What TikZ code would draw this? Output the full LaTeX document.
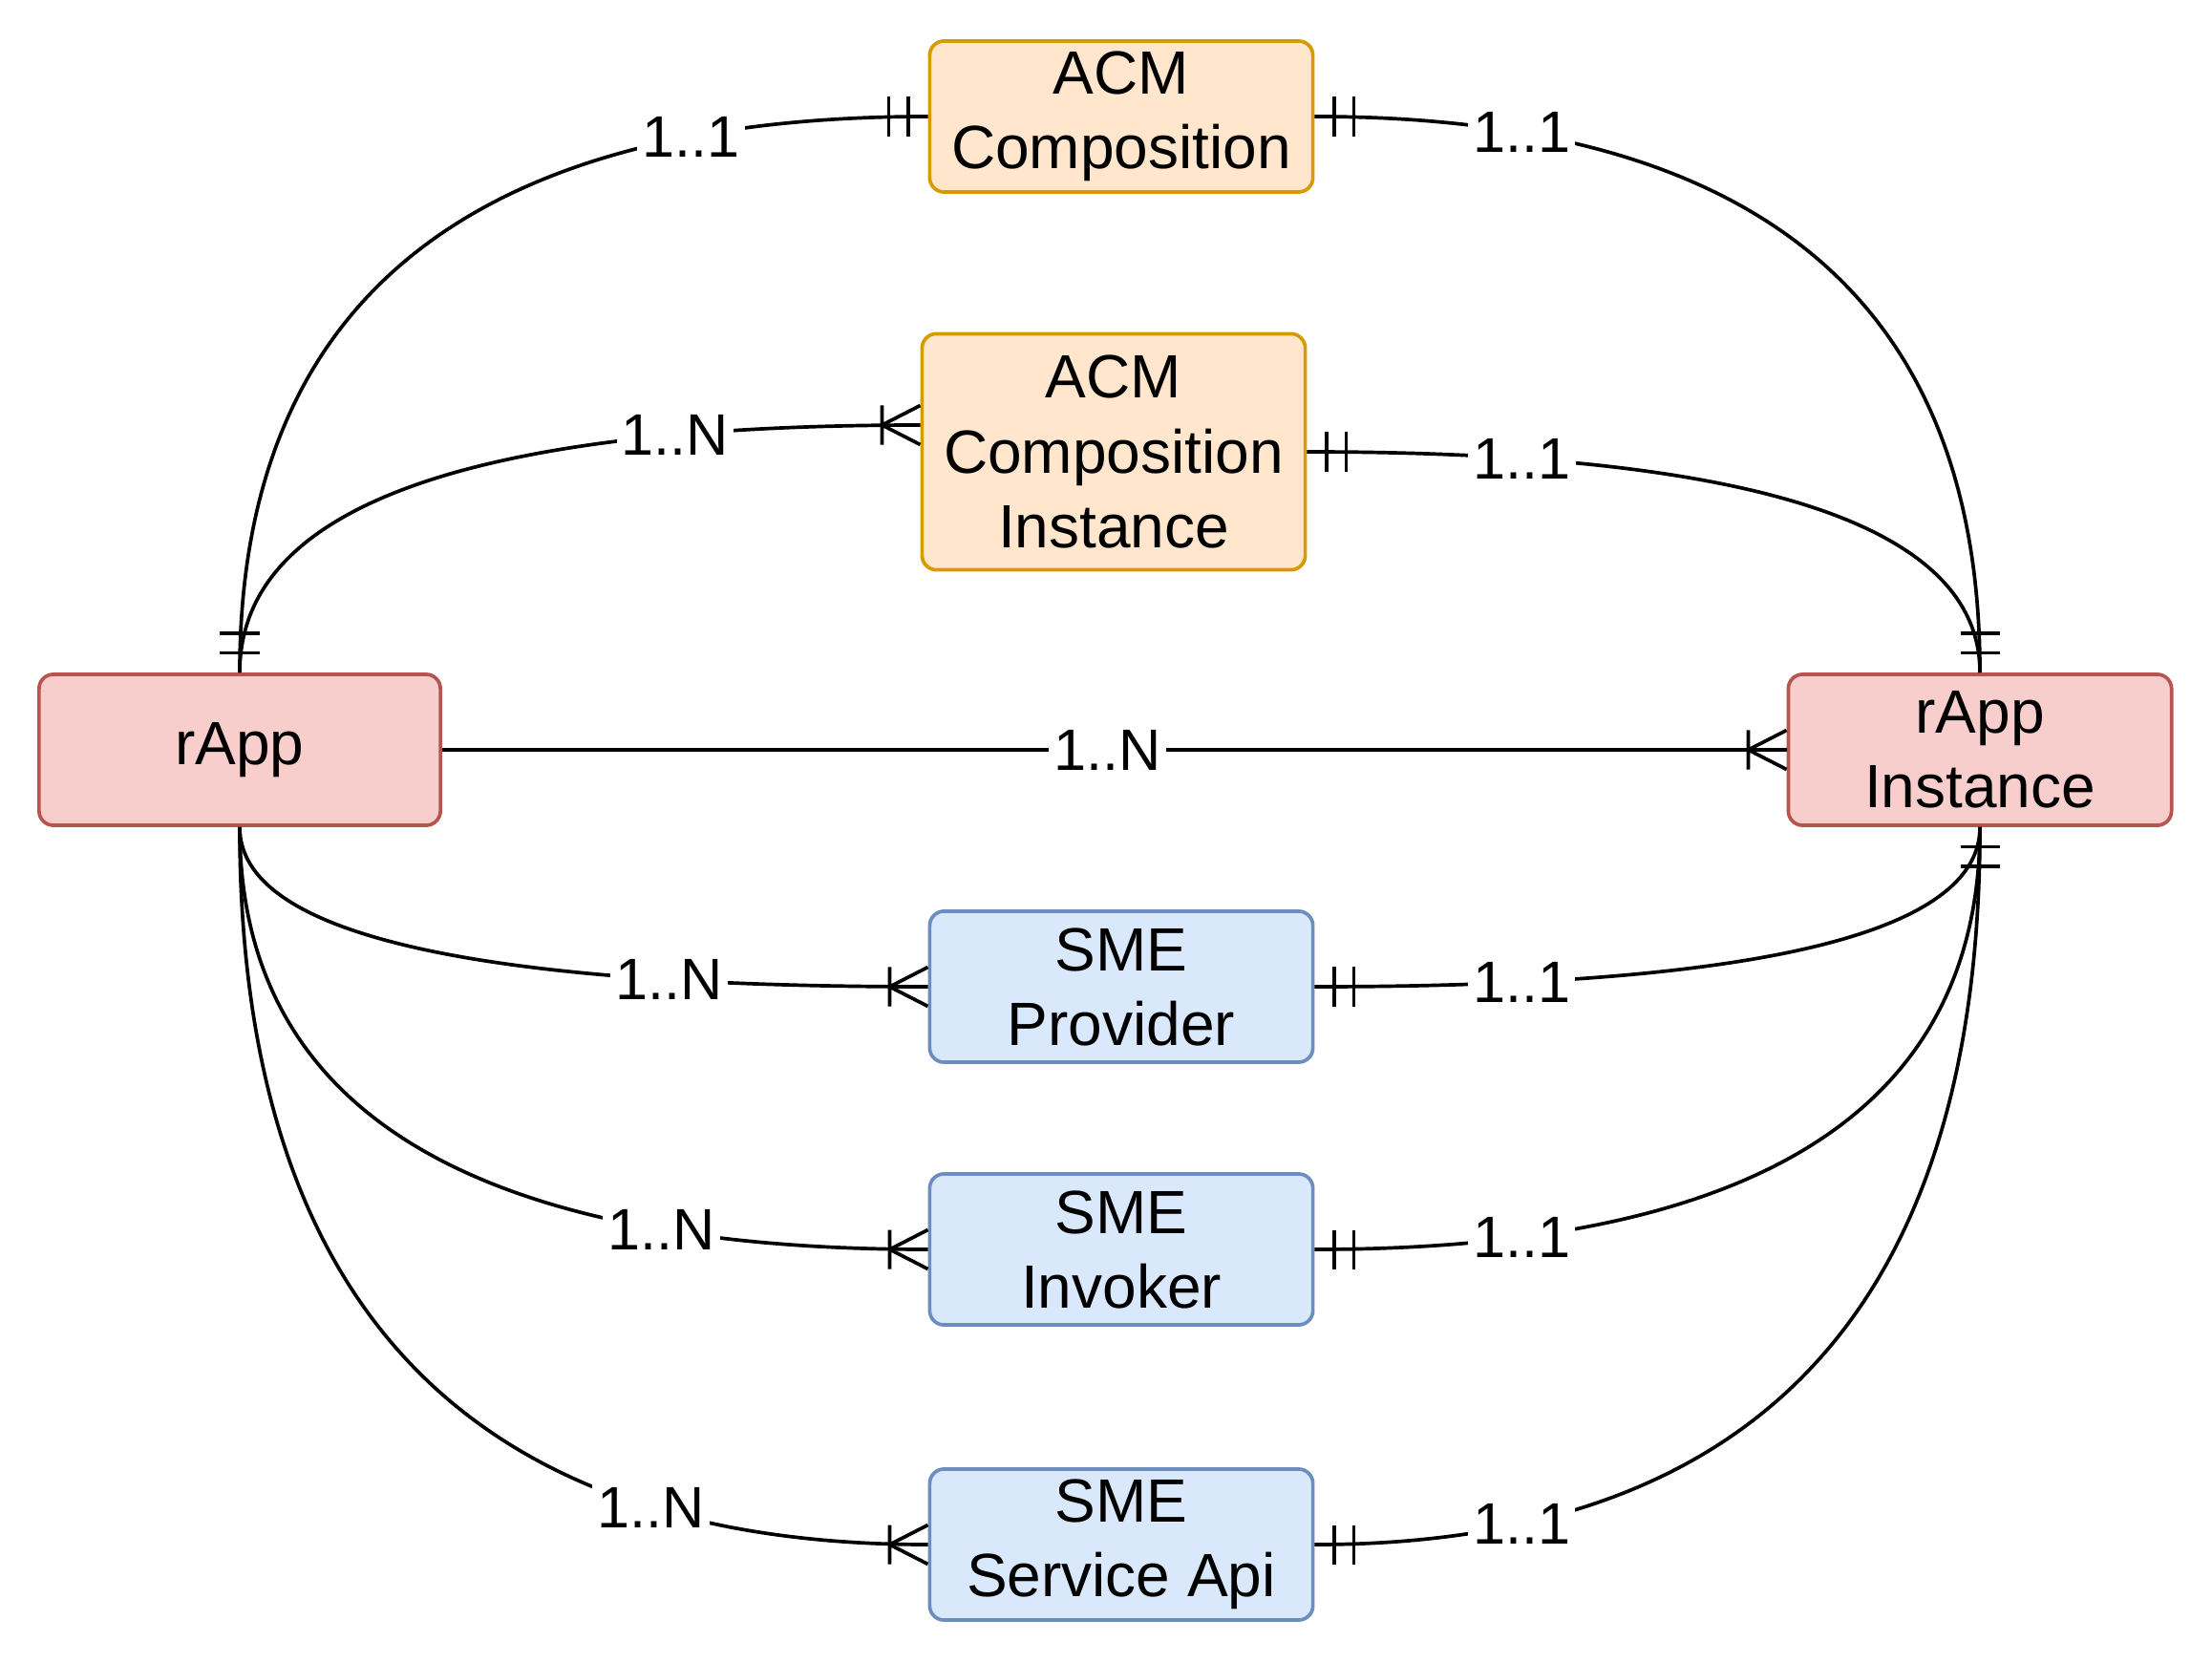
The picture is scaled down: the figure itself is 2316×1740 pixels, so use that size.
\documentclass[tikz,border=0pt]{standalone}
\usepackage{fontspec}
\setmainfont{Liberation Sans}
\usetikzlibrary{positioning}
\usetikzlibrary{calc}
\usetikzlibrary{arrows.meta}
\definecolor{acmfill}{HTML}{FFE6CC}
\definecolor{acmdraw}{HTML}{D79B00}
\definecolor{rappfill}{HTML}{F8CECC}
\definecolor{rappdraw}{HTML}{B85450}
\definecolor{smefill}{HTML}{DAE8FC}
\definecolor{smedraw}{HTML}{6C8EBF}
% ER ends: exactly one (two bars) and one-to-many (crow's foot)
\pgfdeclarearrow{
  name = ERone,
  parameters = {\the\pgfarrowlength,\the\pgfarrowwidth},
  setup code = {
    \pgfarrowssettipend{0pt}
    \pgfarrowssetlineend{0pt}
    \pgfarrowssetbackend{-\pgfarrowlength}
    \pgfarrowsupperhullpoint{0pt}{.5\pgfarrowwidth}
    \pgfarrowsupperhullpoint{-\pgfarrowlength}{.5\pgfarrowwidth}
    \pgfarrowssavethe\pgfarrowlength
    \pgfarrowssavethe\pgfarrowwidth
  },
  drawing code = {
    \pgfsetbuttcap
    \pgfpathmoveto{\pgfqpoint{-.5\pgfarrowlength}{.5\pgfarrowwidth}}
    \pgfpathlineto{\pgfqpoint{-.5\pgfarrowlength}{-.5\pgfarrowwidth}}
    \pgfpathmoveto{\pgfqpoint{-\pgfarrowlength}{.5\pgfarrowwidth}}
    \pgfpathlineto{\pgfqpoint{-\pgfarrowlength}{-.5\pgfarrowwidth}}
    \pgfusepathqstroke
  },
  defaults = {length=4.1mm,width=4.1mm}
}
\pgfdeclarearrow{
  name = ERmany,
  parameters = {\the\pgfarrowlength,\the\pgfarrowwidth},
  setup code = {
    \pgfarrowssettipend{0pt}
    \pgfarrowssetlineend{0pt}
    \pgfarrowssetbackend{-\pgfarrowlength}
    \pgfarrowsupperhullpoint{0pt}{.5\pgfarrowwidth}
    \pgfarrowsupperhullpoint{-\pgfarrowlength}{.5\pgfarrowwidth}
    \pgfarrowssavethe\pgfarrowlength
    \pgfarrowssavethe\pgfarrowwidth
  },
  drawing code = {
    \pgfsetbuttcap
    \pgfpathmoveto{\pgfqpoint{0pt}{.5\pgfarrowwidth}}
    \pgfpathlineto{\pgfqpoint{-\pgfarrowlength}{0pt}}
    \pgfpathlineto{\pgfqpoint{0pt}{-.5\pgfarrowwidth}}
    \pgfpathmoveto{\pgfqpoint{-\pgfarrowlength}{.5\pgfarrowwidth}}
    \pgfpathlineto{\pgfqpoint{-\pgfarrowlength}{-.5\pgfarrowwidth}}
    \pgfusepathqstroke
  },
  defaults = {length=4mm,width=4.1mm}
}
\tikzset{
ent/.style={
  rectangle,
  rounded corners=0.15cm,
  inner sep=0pt,
  minimum width=4.01cm,
  minimum height=1.58cm,
  align=center,
  line width=1.05pt,
  font=\fontsize{18.2}{22.2}\selectfont
  },
acm/.style={ent,draw=acmdraw,fill=acmfill},
rapp/.style={ent,draw=rappdraw,fill=rappfill},
sme/.style={ent,draw=smedraw,fill=smefill},
card/.style={fill=white,inner sep=1.5pt,font=\fontsize{17.4}{20}\selectfont},
% quadratic curves with the corner of the right-angled route as control
vh/.style={to path={.. controls ($(\tikztostart)!2/3!(\tikztostart|-\tikztotarget)$) and ($(\tikztotarget)!2/3!(\tikztostart|-\tikztotarget)$) .. (\tikztotarget) \tikztonodes}},
hv/.style={to path={.. controls ($(\tikztostart)!2/3!(\tikztostart-|\tikztotarget)$) and ($(\tikztotarget)!2/3!(\tikztostart-|\tikztotarget)$) .. (\tikztotarget) \tikztonodes}}
}

\begin{document}
\begin{tikzpicture}[x=0.01cm,y=-0.01cm,line width=1.05pt]
  \useasboundingbox (0,0) rectangle (2316,1740);
            \node[rapp,minimum width=4.2cm] (rapp) at (251,785) {rApp};
            \node[rapp] (rappi) at (2073,785) {rApp\\Instance};
            \node[acm] (acmc) at (1174,122) {ACM\\Composition};
            \node[acm,minimum height=2.47cm] (acmi) at (1166,473) {ACM\\Composition\\Instance};
            \node[sme] (smep) at (1174,1033) {SME\\Provider};
            \node[sme] (smei) at (1174,1308) {SME\\Invoker};
            \node[sme] (smes) at (1174,1617) {SME\\Service Api};
            \coordinate (acmi-in) at ($(acmi.west)+(0,-28)$);
            \path
            (rapp.north) edge [vh,{ERone}-{ERone}] node[card,pos=0.81] {1..1} (acmc.west)
            (rapp.north) edge [vh,-{ERmany}] node[card,pos=0.8] {1..N} (acmi-in)
            (acmc.east) edge [hv,{ERone}-{ERone}] node[card,pos=0.17] {1..1} (rappi.north)
            (acmi.east) edge [hv,{ERone}-{ERone}] node[card,pos=0.175] {1..1} (rappi.north)
            (rapp.east) edge [-{ERmany}] node[card,pos=0.495] {1..N} (rappi.west)
            (rapp.south) edge [vh,-{ERmany}] node[card,pos=0.79] {1..N} (smep.west)
            (rapp.south) edge [vh,-{ERmany}] node[card,pos=0.783] {1..N} (smei.west)
            (rapp.south) edge [vh,-{ERmany}] node[card,pos=0.773] {1..N} (smes.west)
            (smep.east) edge [hv,{ERone}-{ERone}] node[card,pos=0.17] {1..1} (rappi.south)
            (smei.east) edge [hv,{ERone}-{ERone}] node[card,pos=0.17] {1..1} (rappi.south)
            (smes.east) edge [hv,{ERone}-{ERone}] node[card,pos=0.17] {1..1} (rappi.south)
            ;
\end{tikzpicture}
\end{document}
